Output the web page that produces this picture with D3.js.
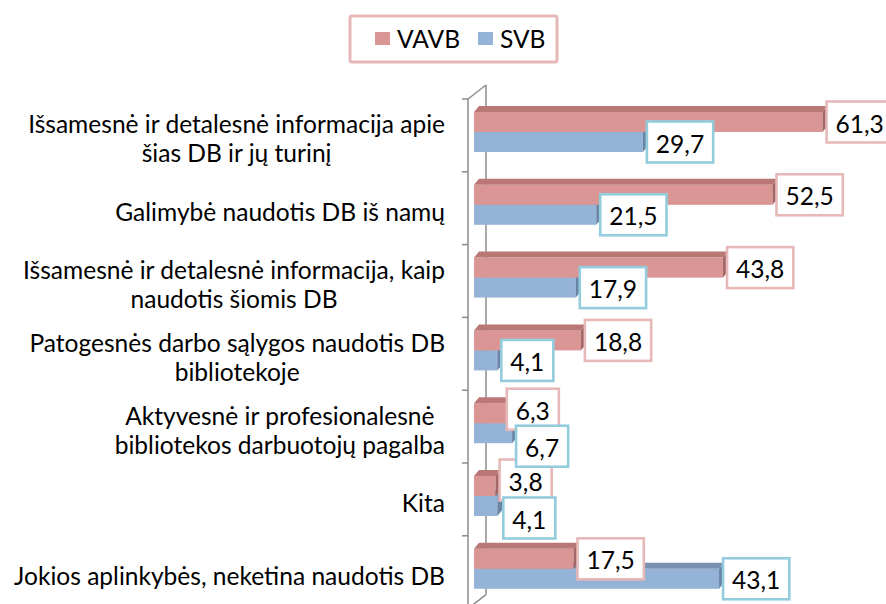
<!DOCTYPE html>
<html><head><meta charset="utf-8">
<script src="https://cdn.jsdelivr.net/npm/d3@7"></script>
<style>body{margin:0;background:#fff}svg{display:block}</style>
</head><body>
<svg id="chart" width="886" height="604"></svg>
<script>
// ---- data ----
const categories = [
  ["Išsamesnė ir detalesnė informacija apie", "šias DB ir jų turinį"],
  ["Galimybė naudotis DB iš namų"],
  ["Išsamesnė ir detalesnė informacija, kaip", "naudotis šiomis DB"],
  ["Patogesnės darbo sąlygos naudotis DB", "bibliotekoje"],
  ["Aktyvesnė ir profesionalesnė", "bibliotekos darbuotojų pagalba"],
  ["Kita"],
  ["Jokios aplinkybės, neketina naudotis DB"]
];
const seriesNames = ["VAVB", "SVB"];
const vavbValues = [61.3, 52.5, 43.8, 18.8, 6.3, 3.8, 17.5];
const svbValues  = [29.7, 21.5, 17.9, 4.1, 6.7, 4.1, 43.1];

// ---- styling (not data) ----
const FONT = "Lato, 'Open Sans', sans-serif";
const colors = {
  VAVB: {front: "#d99694", top: "#b97776", side: "#a26766", border: "#e6b9b8"},
  SVB:  {front: "#95b3d7", top: "#7891b1", side: "#6a84a6", border: "#93cddd"}
};
// manual label nudges as in the original (dx, dy)
const labelNudge = {
  VAVB: [[0,0],[0,0],[0,0],[0,0],[-7,-4],[0,-6],[0,0]],
  SVB:  [[0,0],[0,0],[0,0],[0,0],[0,13],[2,12],[0,0]]
};

const svg = d3.select("#chart");

// calibrate font size so text widths match the original (Calibri-like metrics)
const probe = svg.append("text").attr("font-family", FONT).attr("font-size", 24)
  .text("Jokios aplinkybės, neketina naudotis DB");
const fs = 24 * 431 / probe.node().getComputedTextLength();
probe.remove();

const x = d3.scaleLinear().domain([0, 70]).range([474, 872]);
const y = d3.scaleBand().domain(d3.range(categories.length)).range([99, 608.6]);
const bw = y.bandwidth();
const barH = 20, barOff = 13, DX = 5, DY = 6;
const axisX = 468, wallDX = 18, wallDY = 14;

// ---- axis / walls ----
const ax = svg.append("g").attr("stroke", "#8c8c8c").attr("stroke-width", 1.5).attr("fill", "none");
const y0 = y.range()[0], y1 = y.range()[1];
ax.append("line").attr("x1", axisX).attr("x2", axisX).attr("y1", y0).attr("y2", y1);
ax.append("line").attr("x1", axisX + wallDX).attr("x2", axisX + wallDX).attr("y1", y0 - wallDY).attr("y2", y1 - wallDY);
ax.append("line").attr("x1", axisX).attr("y1", y0).attr("x2", axisX + wallDX).attr("y2", y0 - wallDY);
ax.append("line").attr("x1", axisX).attr("y1", y1).attr("x2", axisX + wallDX).attr("y2", y1 - wallDY);
ax.selectAll("line.tick").data(d3.range(categories.length + 1)).join("line")
  .attr("class", "tick")
  .attr("x1", axisX - 6).attr("x2", axisX)
  .attr("y1", i => y0 + i * bw).attr("y2", i => y0 + i * bw);

// ---- bars ----
const series = [
  {name: "SVB", values: svbValues, row: 1},
  {name: "VAVB", values: vavbValues, row: 0}
];
const barsG = svg.append("g");
series.forEach(s => {
  const c = colors[s.name];
  s.values.forEach((v, i) => {
    const xs = x(0), xe = x(v);
    const top = y(i) + barOff + s.row * barH;
    const g = barsG.append("g");
    g.append("rect").attr("x", xs).attr("y", top).attr("width", xe - xs).attr("height", barH).attr("fill", c.front);
    g.append("path").attr("fill", c.top)
      .attr("d", `M${xs},${top}L${xe},${top}L${xe + DX},${top - DY}L${xs + DX},${top - DY}Z`);
    g.append("path").attr("fill", c.side)
      .attr("d", `M${xe},${top}L${xe + DX},${top - DY}L${xe + DX},${top + barH - DY}L${xe},${top + barH}Z`);
  });
});

// ---- data labels ----
const fmt = v => String(v.toFixed(1)).replace(".", ",");
const labelsG = svg.append("g");
series.slice().reverse().forEach(s => {
  const c = colors[s.name];
  s.values.forEach((v, i) => {
    const [ndx, ndy] = labelNudge[s.name][i];
    const cy = y(i) + barOff + s.row * barH + barH / 2 + ndy;
    const g = labelsG.append("g");
    const t = g.append("text").attr("font-family", FONT).attr("font-size", fs).attr("fill", "#000")
      .attr("text-anchor", "middle").attr("dominant-baseline", "central").text(fmt(v));
    const tw = t.node().getComputedTextLength();
    const w = tw + 18, h = 41;
    const left = x(v) + 4 + ndx;
    g.insert("rect", "text").attr("x", left).attr("y", cy - h / 2).attr("width", w).attr("height", h)
      .attr("fill", "#fff").attr("stroke", c.border).attr("stroke-width", 2.6);
    t.attr("x", left + w / 2).attr("y", cy + 1);
  });
});

// ---- category labels ----
const R = 445, lineH = 29;
const catG = svg.append("g").attr("font-family", FONT).attr("font-size", fs).attr("fill", "#000");
categories.forEach((lines, i) => {
  const g = catG.append("g");
  const ts = lines.map(l => g.append("text").attr("text-anchor", "middle").attr("dominant-baseline", "central").text(l));
  const maxW = d3.max(ts, t => t.node().getComputedTextLength());
  const cx = R - maxW / 2;
  const cy = y(i) + bw / 2 + 3;
  ts.forEach((t, k) => t.attr("x", cx).attr("y", cy + (k - (lines.length - 1) / 2) * lineH));
});

// ---- legend ----
const lg = svg.append("g");
lg.append("rect").attr("x", 350).attr("y", 16).attr("width", 207).attr("height", 46).attr("rx", 2)
  .attr("fill", "#fff").attr("stroke", "#e6b9b8").attr("stroke-width", 3);
const legendX = [375, 478];
seriesNames.forEach((n, k) => {
  lg.append("rect").attr("x", legendX[k]).attr("y", 32).attr("width", 15).attr("height", 13).attr("fill", colors[n].front);
  lg.append("text").attr("x", legendX[k] + 22).attr("y", 38.5).attr("dominant-baseline", "central")
    .attr("font-family", FONT).attr("font-size", fs).attr("fill", "#000").text(n);
});
</script>
</body></html>
